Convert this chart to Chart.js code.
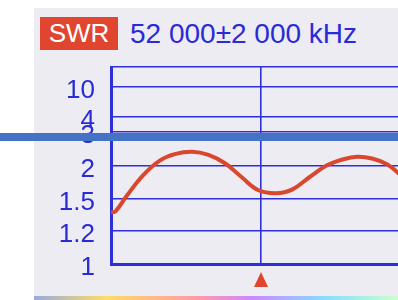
<!DOCTYPE html>
<html>
<head>
<meta charset="utf-8">
<script src="https://cdn.jsdelivr.net/npm/chart.js@4.4.1/dist/chart.umd.min.js"></script>
<style>
  html, body { margin: 0; width: 398px; height: 300px; overflow: hidden; background: #fff; }
  #screen { position: absolute; left: 34px; top: 8px; width: 364px; height: 288px; background: #ececf2; }
  #rainbow { position: absolute; left: 34px; top: 296px; width: 364px; height: 4px;
    background: linear-gradient(90deg, #9ad 0%, #fd6 20%, #f9a 45%, #c8f 60%, #8df 80%, #cfc 100%); }
  #wrap { position: absolute; left: 0; top: 0; width: 420px; height: 300px; }
  #tag { position: absolute; left: 40px; top: 17px; width: 78px; height: 33px; background: #e0462f;
    color: #fff; font: 26px "Liberation Sans", Arial, sans-serif; line-height: 33px; text-align: center; }
  #freq { position: absolute; left: 130px; top: 18px; color: #2a2ad6;
    font: 28px "Liberation Sans", Arial, sans-serif; line-height: 32px; white-space: nowrap; }
  #bar { position: absolute; left: 0; top: 133px; width: 398px; height: 8px; background: #4472c4; }
</style>
</head>
<body>
<div id="screen"></div>
<div id="rainbow"></div>
<div id="tag">SWR</div>
<div id="freq">52 000±2 000 kHz</div>
<div id="wrap"><canvas id="myChart" width="420" height="300"></canvas></div>
<div id="bar"></div>
<script>
// sweep, kHz
const freqKhz = [50000, 50060, 50210, 50430, 50650, 50850, 51080, 51300, 51520, 51740,
  51960, 52200, 52420, 52650, 52880, 53100, 53280, 53480, 53680, 53850, 54000];
const swrValues = [1.37, 1.38, 1.54, 1.86, 2.16, 2.35, 2.42, 2.33, 2.08, 1.83,
  1.63, 1.58, 1.64, 1.83, 2.02, 2.2, 2.27, 2.22, 2.05, 1.87, 1.7];
const swrTicks = [1, 1.2, 1.5, 2, 3, 4, 10];
const swrTop = 20; // unlabelled top line
const centerKhz = 52000;
const spanKhz = 2000;

// the meter's y scale is not linear: where each tick sits, bottom = 0, top = 1
const tickStops = swrTicks.concat([swrTop]);
const tickFrac = [0, 0.1685, 0.333, 0.4975, 0.6695, 0.747, 0.899, 1];

function swrToFrac(v) {
  if (v <= tickStops[0]) return 0;
  for (let i = 1; i < tickStops.length; i++) {
    if (v <= tickStops[i]) {
      const t = (v - tickStops[i - 1]) / (tickStops[i] - tickStops[i - 1]);
      return tickFrac[i - 1] + t * (tickFrac[i] - tickFrac[i - 1]);
    }
  }
  return 1;
}

class SwrScale extends Chart.LinearScale {
  buildTicks() {
    return tickStops.map((v) => ({ value: v }));
  }
  getPixelForValue(value) {
    return this.bottom - swrToFrac(value) * (this.bottom - this.top);
  }
  getValueForPixel(pixel) {
    const f = (this.bottom - pixel) / (this.bottom - this.top);
    for (let i = 1; i < tickFrac.length; i++) {
      if (f <= tickFrac[i]) {
        const t = (f - tickFrac[i - 1]) / (tickFrac[i] - tickFrac[i - 1]);
        return tickStops[i - 1] + t * (tickStops[i] - tickStops[i - 1]);
      }
    }
    return swrTop;
  }
}
SwrScale.id = "swr";
SwrScale.defaults = Chart.LinearScale.defaults;
Chart.register(SwrScale);

const gridBlue = "#2f2fd8";

const marker = {
  id: "marker",
  afterDraw(chart) {
    const c = chart.ctx;
    const x = chart.scales.x.getPixelForValue(centerKhz);
    c.save();
    c.fillStyle = "#e0462f";
    c.beginPath();
    c.moveTo(x, 272);
    c.lineTo(x + 7, 287);
    c.lineTo(x - 7, 287);
    c.closePath();
    c.fill();
    c.restore();
  },
};

const ctx = document.getElementById("myChart");

new Chart(ctx, {
  type: "line",
  data: {
    datasets: [
      {
        data: freqKhz.map((f, i) => ({ x: f, y: swrValues[i] })),
        borderColor: "#d9472f",
        borderWidth: 4,
        pointRadius: 0,
        tension: 0.4,
      },
    ],
  },
  options: {
    responsive: false,
    animation: false,
    layout: { padding: { left: 0, top: 67, right: 9, bottom: 36 } },
    plugins: { legend: { display: false }, tooltip: { enabled: false } },
    scales: {
      x: {
        type: "linear",
        min: centerKhz - spanKhz,
        max: centerKhz + spanKhz,
        ticks: { display: false, stepSize: spanKhz },
        grid: { color: gridBlue, lineWidth: 1.6, drawTicks: false },
        border: { color: gridBlue, width: 3 },
        afterFit: (scale) => { scale.height = 0; },
      },
      y: {
        type: "swr",
        min: 1,
        max: swrTop,
        ticks: {
          autoSkip: false,
          padding: 16,
          labelOffset: 4,
          color: "#2a2ad6",
          font: { family: "Liberation Sans", size: 26 },
          callback: (v) => (v === swrTop ? "" : String(v)),
        },
        grid: { color: gridBlue, lineWidth: 1.6, drawTicks: false },
        border: { color: gridBlue, width: 3 },
        afterFit: (scale) => { scale.width = 111; },
      },
    },
  },
  plugins: [marker],
});
</script>
</body>
</html>
